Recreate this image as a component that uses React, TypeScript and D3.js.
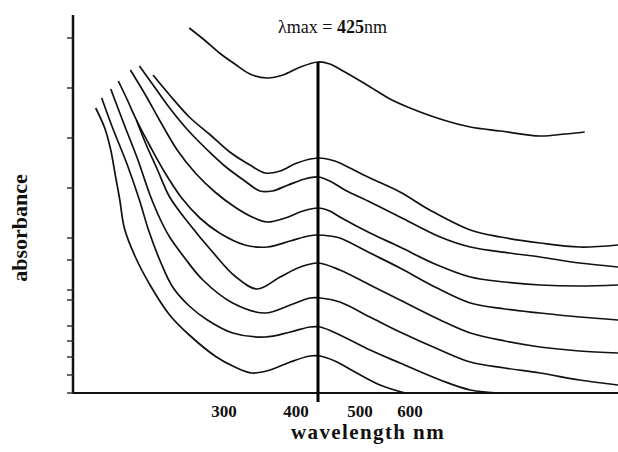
import React, { useRef, useEffect } from "react";
import * as d3 from "d3";

// [wavelength nm, absorbance]
const topCurve = [
  [277, 0.73], [287, 0.706], [297, 0.68], [315, 0.658], [336, 0.638], [360, 0.63],
  [382, 0.636], [405, 0.652], [425, 0.662], [446, 0.658], [473, 0.642], [514, 0.616],
  [560, 0.588], [600, 0.57], [629, 0.548], [658, 0.532], [687, 0.524], [725, 0.514],
  [749, 0.518], [768, 0.522],
];

const curve1 = [
  [253, 0.636], [264, 0.596], [277, 0.552], [291, 0.516], [308, 0.482], [336, 0.456],
  [357, 0.44], [378, 0.444], [401, 0.46], [425, 0.47], [455, 0.464], [482, 0.45],
  [520, 0.43], [580, 0.402], [619, 0.366], [658, 0.326], [687, 0.312], [725, 0.3],
  [763, 0.292], [800, 0.296],
];

const curve2 = [
  [244, 0.654], [254, 0.612], [264, 0.57], [276, 0.526], [289, 0.486], [301, 0.454],
  [329, 0.424], [350, 0.404], [367, 0.404], [389, 0.416], [410, 0.428], [425, 0.432],
  [446, 0.424], [473, 0.406], [520, 0.382], [580, 0.352], [629, 0.312], [658, 0.292],
  [696, 0.28], [725, 0.272], [763, 0.26], [800, 0.252],
];

const curve3 = [
  [238, 0.646], [248, 0.596], [258, 0.542], [269, 0.486], [281, 0.44], [294, 0.402],
  [315, 0.372], [339, 0.352], [360, 0.342], [385, 0.35], [408, 0.364], [425, 0.37],
  [446, 0.364], [464, 0.352], [520, 0.32], [580, 0.292], [624, 0.258], [658, 0.232],
  [691, 0.222], [725, 0.216], [763, 0.214], [800, 0.216],
];

const curve4 = [
  [230, 0.624], [236, 0.586], [242, 0.546], [251, 0.494], [261, 0.44], [272, 0.39],
  [284, 0.35], [297, 0.32], [329, 0.296], [360, 0.292], [392, 0.304], [414, 0.314],
  [425, 0.316], [446, 0.314], [464, 0.31], [520, 0.28], [580, 0.25], [624, 0.212],
  [658, 0.18], [691, 0.168], [725, 0.16], [763, 0.152], [800, 0.146],
];

// branches off curve4 near the top left
const curve5 = [
  [242, 0.546], [248, 0.5], [256, 0.446], [264, 0.392], [276, 0.342], [293, 0.28],
  [315, 0.234], [346, 0.208], [378, 0.232], [405, 0.252], [425, 0.26], [464, 0.246],
  [520, 0.216], [580, 0.186], [629, 0.146], [658, 0.12], [691, 0.104], [725, 0.092],
  [763, 0.084], [800, 0.08],
];

const curve6 = [
  [225, 0.608], [234, 0.536], [243, 0.466], [251, 0.396], [258, 0.346], [264, 0.312],
  [274, 0.27], [286, 0.226], [312, 0.18], [357, 0.16], [392, 0.176], [416, 0.19],
  [429, 0.19], [464, 0.182], [520, 0.152], [580, 0.122], [629, 0.086], [658, 0.062],
  [691, 0.05], [725, 0.04], [763, 0.026], [800, 0.016],
];

const curve7 = [
  [219, 0.59], [226, 0.532], [236, 0.456], [244, 0.386], [250, 0.326], [258, 0.262],
  [266, 0.212], [277, 0.174], [289, 0.146], [312, 0.12], [357, 0.112], [392, 0.122],
  [416, 0.132], [429, 0.132], [464, 0.116], [520, 0.086], [580, 0.06], [629, 0.026],
  [658, 0.006], [687, 0],
];

const curve8 = [
  [215, 0.57], [221, 0.53], [225, 0.486], [228, 0.436], [231, 0.386], [234, 0.33],
  [241, 0.274], [251, 0.216], [264, 0.156], [277, 0.116], [295, 0.072], [315, 0.052],
  [339, 0.04], [364, 0.046], [392, 0.062], [416, 0.074], [429, 0.074], [455, 0.064],
  [491, 0.042], [540, 0.016], [590, 0],
];

const curves = [topCurve, curve1, curve2, curve3, curve4, curve5, curve6, curve7, curve8];

const xTickLabels = [300, 400, 500, 600];
const yTicks = [0, 0.036, 0.072, 0.104, 0.134, 0.186, 0.206, 0.266, 0.31, 0.41, 0.51, 0.61, 0.71];
const lambdaMax = 425;

// the scan's wavelength axis isn't linear, so use a piecewise scale
const xKnots = [200, 300, 400, 425, 500, 600, 800];

const App = () => {
  const ref = useRef(null);

  useEffect(() => {
    document.body.style.margin = "0";
    const svg = d3.select(ref.current);
    svg.selectAll("*").remove();

    const serif = "'Liberation Serif', 'Times New Roman', serif";

    const x = d3
      .scaleLinear()
      .domain(xKnots)
      .range([73, 224, 296, 318, 360, 410, 618]);
    const y = d3.scaleLinear().domain([0, 0.756]).range([393, 15]);

    // axes
    svg
      .append("line")
      .attr("x1", x(200))
      .attr("x2", x(200))
      .attr("y1", y(0) + 1)
      .attr("y2", y(0.756))
      .attr("stroke", "#111")
      .attr("stroke-width", 2.5);

    svg
      .append("line")
      .attr("x1", x(200))
      .attr("x2", x(800))
      .attr("y1", y(0))
      .attr("y2", y(0))
      .attr("stroke", "#111")
      .attr("stroke-width", 2);

    svg
      .selectAll(".ytick")
      .data(yTicks)
      .enter()
      .append("line")
      .attr("class", "ytick")
      .attr("x1", x(200) - 6)
      .attr("x2", x(200))
      .attr("y1", (d) => y(d))
      .attr("y2", (d) => y(d))
      .attr("stroke", "#333")
      .attr("stroke-width", 1.5);

    // spectra
    const line = d3
      .line()
      .x((d) => x(d[0]))
      .y((d) => y(d[1]))
      .curve(d3.curveCatmullRom.alpha(0.5));

    svg
      .selectAll(".spectrum")
      .data(curves)
      .enter()
      .append("path")
      .attr("class", "spectrum")
      .attr("d", line)
      .attr("fill", "none")
      .attr("stroke", "#111")
      .attr("stroke-width", 1.7);

    // lambda max marker
    svg
      .append("line")
      .attr("x1", x(lambdaMax))
      .attr("x2", x(lambdaMax))
      .attr("y1", y(0.662))
      .attr("y2", y(0) + 9)
      .attr("stroke", "#000")
      .attr("stroke-width", 3);

    const note = svg
      .append("text")
      .attr("x", 278)
      .attr("y", 33)
      .attr("font-family", serif)
      .attr("font-size", 18)
      .attr("fill", "#111");
    note.append("tspan").text("λmax = ");
    note.append("tspan").attr("font-weight", "bold").text(lambdaMax);
    note.append("tspan").text("nm");

    // x tick labels
    svg
      .selectAll(".xlabel")
      .data(xTickLabels)
      .enter()
      .append("text")
      .attr("class", "xlabel")
      .attr("x", (d) => x(d))
      .attr("y", 417)
      .attr("text-anchor", "middle")
      .attr("font-family", serif)
      .attr("font-weight", "bold")
      .attr("font-size", 17)
      .attr("fill", "#111")
      .text((d) => d);

    svg
      .append("text")
      .attr("x", 368)
      .attr("y", 439)
      .attr("text-anchor", "middle")
      .attr("font-family", serif)
      .attr("font-weight", "bold")
      .attr("font-size", 21)
      .attr("letter-spacing", 1.4)
      .attr("fill", "#111")
      .text("wavelength nm");

    svg
      .append("text")
      .attr("transform", "translate(27,228) rotate(-90)")
      .attr("text-anchor", "middle")
      .attr("font-family", serif)
      .attr("font-weight", "bold")
      .attr("font-size", 22)
      .attr("fill", "#111")
      .text("absorbance");
  }, []);

  return (
    <svg ref={ref} width={618} height={452} style={{ display: "block", background: "#fff" }} />
  );
};

export default App;
